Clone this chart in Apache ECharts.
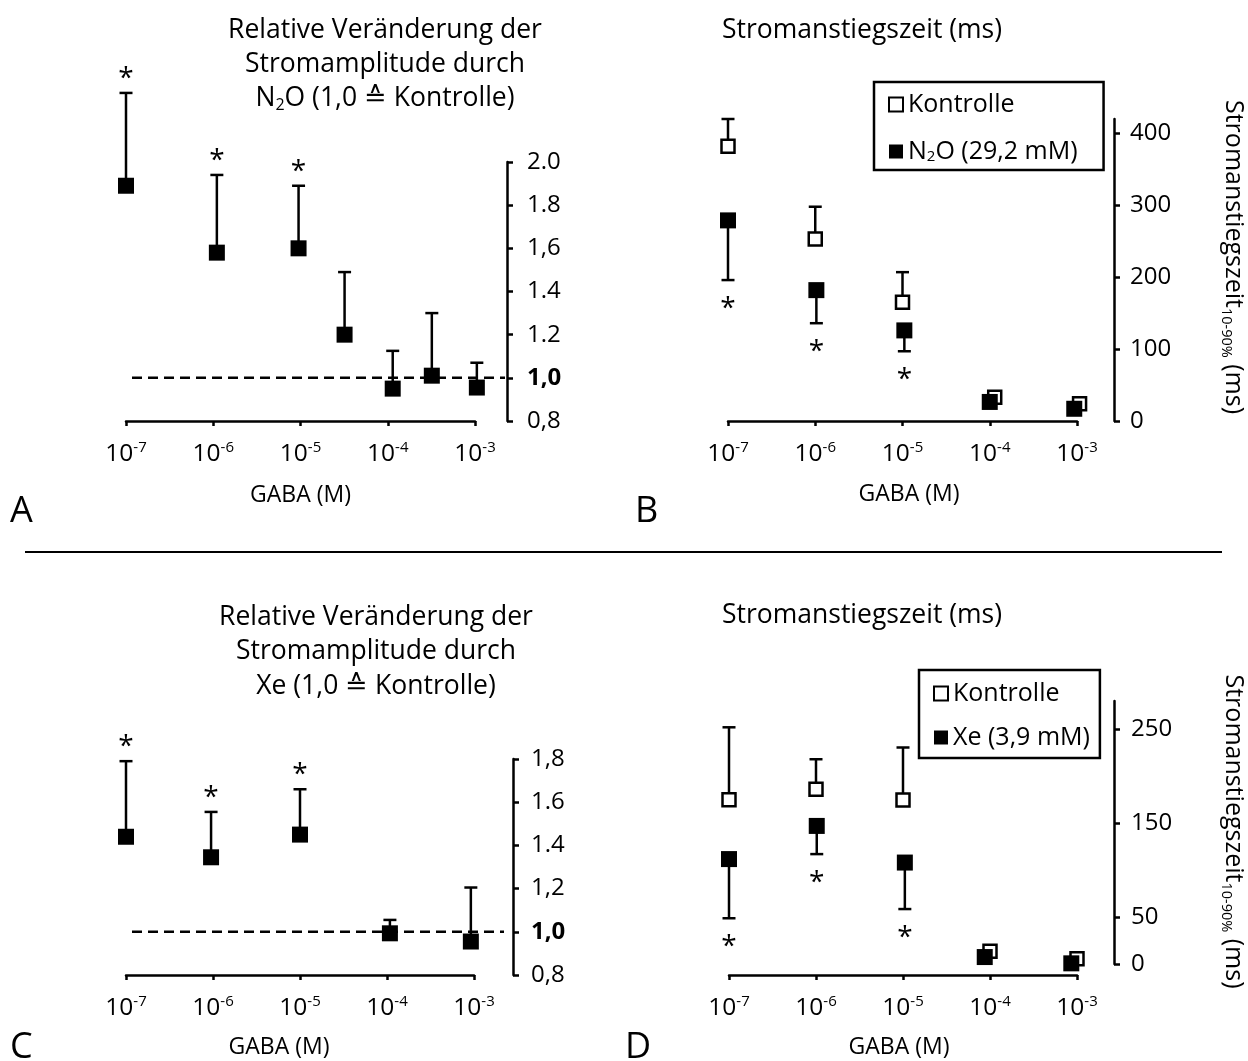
<!DOCTYPE html>
<html>
<head>
<meta charset="utf-8">
<script src="https://cdn.jsdelivr.net/npm/echarts@6/dist/echarts.min.js"></script>
<style>html,body{margin:0;padding:0;background:#fff}#main{width:1248px;height:1061px}</style>
</head>
<body>
<div id="main"></div>
<script>
var FONT = 'Open Sans';

// A: relative Stromamplitude, N2O
var gabaA = [1e-7, 1.1e-6, 9.5e-6, 3.2e-5, 1.14e-4, 3.2e-4, 1.05e-3];
var ampA = [1.89, 1.58, 1.60, 1.20, 0.95, 1.01, 0.955];
var errA = [0.43, 0.36, 0.29, 0.29, 0.175, 0.29, 0.115];
var sigA = [1, 1, 1, 0, 0, 0, 0];

// B: Stromanstiegszeit, Kontrolle / N2O
var gabaBK = [1e-7, 1e-6, 1e-5, 1.14e-4, 1.07e-3];
var riseBK = [382, 253, 165, 33, 24];
var errBK = [38, 45, 42, 0, 0];
var gabaBN = [1e-7, 1.03e-6, 1.05e-5, 1e-4, 9.3e-4];
var riseBN = [279, 182, 126, 26.5, 17];
var errBN = [83, 46, 29, 0, 0];
var sigBN = [1, 1, 1, 0, 0];

// C: relative Stromamplitude, Xe
var gabaC = [1e-7, 0.95e-6, 1e-5, 1.08e-4, 9.2e-4];
var ampC = [1.44, 1.345, 1.45, 0.993, 0.955];
var errC = [0.35, 0.21, 0.21, 0.062, 0.25];
var sigC = [1, 1, 1, 0, 0];

// D: Stromanstiegszeit, Kontrolle / Xe
var gabaDK = [1e-7, 1e-6, 1e-5, 1e-4, 1e-3];
var riseDK = [175, 186, 174.5, 13.5, 5.7];
var errDK = [77, 32, 56, 0, 0];
var gabaDX = [1e-7, 1.02e-6, 1.05e-5, 8.7e-5, 8.6e-4];
var riseDX = [111.7, 147, 108, 7.4, 0.7];
var errDX = [63, 30, 49.5, 0, 0];
var sigDX = [1, 1, 1, 0, 0];

// tick labels
var ampTicksA = [0.8, 1.0, 1.2, 1.4, 1.6, 1.8, 2.0];
var ampLabelsA = ['0,8', '1,0', '1.2', '1.4', '1,6', '1.8', '2.0'];
var ampTicksC = [0.8, 1.0, 1.2, 1.4, 1.6, 1.8];
var ampLabelsC = ['0,8', '1,0', '1,2', '1.4', '1.6', '1,8'];
var riseTicksB = [0, 100, 200, 300, 400];
var riseTicksD = [0, 50, 150, 250];
var refLevel = 1.0;

var myChart = echarts.init(document.getElementById('main'));

function zip(xs, ys) {
    return xs.map(function (x, i) { return [x, ys[i]]; });
}

function gabaAxis(gi, nameGap, namePad, offset) {
    return {
        type: 'log', logBase: 10, gridIndex: gi, min: 1e-7, max: 1e-3,
        offset: offset || 0,
        axisLine: { onZero: false, lineStyle: { color: '#000', width: 2.5 } },
        axisTick: { length: 5, lineStyle: { color: '#000', width: 2.5 } },
        splitLine: { show: false },
        axisLabel: {
            margin: 19,
            formatter: function (v) {
                return '{n|10}{e|' + Math.round(Math.log10(v)) + '}';
            },
            rich: {
                n: { fontSize: 24.5, lineHeight: 28, fontFamily: FONT, color: '#000' },
                e: { fontSize: 15, verticalAlign: 'top', fontFamily: FONT, color: '#000' }
            }
        },
        name: 'GABA (M)', nameLocation: 'middle', nameGap: nameGap,
        nameTextStyle: { fontSize: 23, fontFamily: FONT, color: '#000', padding: namePad }
    };
}

function valueAxis(gi, min, max, offset, ticks, labels, margin, extra) {
    var ax = {
        type: 'value', gridIndex: gi, position: 'right', offset: offset, min: min, max: max,
        axisLine: { show: true, onZero: false, lineStyle: { color: '#000', width: 2.5 } },
        axisTick: { show: true, length: 6, customValues: ticks, lineStyle: { color: '#000', width: 2.5 } },
        splitLine: { show: false },
        axisLabel: {
            customValues: ticks, margin: margin, fontSize: 24, fontFamily: FONT, color: '#000',
            formatter: function (v) {
                if (!labels) return String(v);
                var best = 0;
                ticks.forEach(function (t, i) { if (Math.abs(t - v) < Math.abs(ticks[best] - v)) best = i; });
                var s = labels[best];
                return Math.abs(ticks[best] - refLevel) < 1e-9 ? '{b|' + s + '}' : s;
            },
            rich: { b: { fontSize: 24, fontWeight: 'bold', fontFamily: FONT, color: '#000' } }
        }
    };
    if (extra) Object.keys(extra).forEach(function (k) { ax[k] = extra[k]; });
    return ax;
}

function errorLayer(gi, xs, ys, errs, sig, dir) {
    return {
        type: 'custom', xAxisIndex: gi, yAxisIndex: gi, z: 2, silent: true,
        data: xs.map(function (x, i) { return [x, ys[i], errs[i], sig ? sig[i] : 0]; }),
        renderItem: function (params, api) {
            var x = api.value(0), y = api.value(1), e = api.value(2), s = api.value(3);
            var p0 = api.coord([x, y]);
            var p1 = api.coord([x, y + dir * e]);
            var kids = [];
            if (e > 0) {
                kids.push({ type: 'line', shape: { x1: p0[0], y1: p0[1], x2: p1[0], y2: p1[1] },
                    style: { stroke: '#000', lineWidth: 2.5 } });
                kids.push({ type: 'line', shape: { x1: p1[0] - 6.5, y1: p1[1], x2: p1[0] + 6.5, y2: p1[1] },
                    style: { stroke: '#000', lineWidth: 2.5 } });
            }
            if (s) {
                var gap = dir > 0 ? 20 : 23;
                kids.push({ type: 'text', style: { text: '*', x: p1[0], y: p1[1] - dir * gap + 6,
                    align: 'center', verticalAlign: 'middle', font: '28px ' + FONT, fill: '#000' } });
            }
            return { type: 'group', children: kids };
        }
    };
}

function refLine(gi) {
    return {
        type: 'custom', xAxisIndex: gi, yAxisIndex: gi, z: 1, silent: true,
        data: [[1e-7, refLevel]],
        renderItem: function (params, api) {
            var cs = params.coordSys;
            var p = api.coord([api.value(0), api.value(1)]);
            return { type: 'line', shape: { x1: p[0] + 6, y1: p[1], x2: cs.x + cs.width + 30, y2: p[1] },
                style: { stroke: '#000', lineWidth: 2.5, lineDash: [10, 6] } };
        }
    };
}

function squares(gi, name, xs, ys, open) {
    return {
        type: 'scatter', name: name, xAxisIndex: gi, yAxisIndex: gi, z: open ? 3 : 4,
        symbol: 'rect', symbolSize: open ? 13 : 16, clip: false, silent: true,
        itemStyle: open ? { color: '#fff', borderColor: '#000', borderWidth: 2.5, opacity: 1 }
                        : { color: '#000', opacity: 1 },
        data: zip(xs, ys)
    };
}

var txt = { fontSize: 26.5, fontFamily: FONT, color: '#000', fontWeight: 'normal', lineHeight: 30 };
var subRich = {
    t: { fontSize: 26.5, fontFamily: FONT, color: '#000', lineHeight: 30 },
    s: { fontSize: 16, fontFamily: FONT, color: '#000', verticalAlign: 'bottom' }
};
function ttl(text, left, top, align, style) {
    return { text: text, left: left, top: top, textAlign: align, padding: 0,
        textStyle: Object.assign({}, txt, style || {}, { rich: subRich }) };
}

var legendText = {
    fontSize: 25, fontFamily: FONT, color: '#000',
    rich: {
        t: { fontSize: 25, fontFamily: FONT, color: '#000' },
        s: { fontSize: 15, fontFamily: FONT, color: '#000', verticalAlign: 'bottom' }
    }
};
function legendFmt(name) {
    if (name.indexOf('N2O') === 0) return '{t|N}{s|2}{t|' + name.slice(2) + '}';
    return '{t|' + name + '}';
}

var yNameB = 'Stromanstiegszeit';
var yNameStyle = {
    fontSize: 25, fontFamily: FONT, color: '#000', padding: [0, 26, 0, 0],
    rich: {
        t: { fontSize: 25, fontFamily: FONT, color: '#000', lineHeight: 28 },
        s: { fontSize: 14.5, fontFamily: FONT, color: '#000', verticalAlign: 'bottom' }
    }
};

var option = {
    animation: false,
    backgroundColor: '#fff',
    textStyle: { fontFamily: FONT, color: '#000' },
    title: [
        ttl('Relative Veränderung der', 385, 15, 'center'),
        ttl('Stromamplitude durch', 385, 49, 'center'),
        ttl('{t|N}{s|2}{t|O (1,0 ≙ Kontrolle)}', 385, 83, 'center'),
        ttl('Stromanstiegszeit (ms)', 722, 15, 'left'),
        ttl('Relative Veränderung der', 376, 602, 'center'),
        ttl('Stromamplitude durch', 376, 636, 'center'),
        ttl('Xe (1,0 ≙ Kontrolle)', 376, 671, 'center'),
        ttl('Stromanstiegszeit (ms)', 722, 600, 'left'),
        ttl('A', 10, 492, 'left', { fontSize: 36, lineHeight: 40 }),
        ttl('B', 635, 492, 'left', { fontSize: 36, lineHeight: 40 }),
        ttl('C', 10, 1028, 'left', { fontSize: 36, lineHeight: 40 }),
        ttl('D', 625, 1028, 'left', { fontSize: 36, lineHeight: 40 })
    ],
    legend: [
        {
            data: ['Kontrolle', 'N2O (29,2 mM)'], orient: 'vertical', left: 874, top: 82,
            itemWidth: 14, itemHeight: 14, itemGap: 22, padding: [10, 26, 6, 14],
            borderColor: '#000', borderWidth: 2.5, selectedMode: false,
            textStyle: legendText, formatter: legendFmt
        },
        {
            data: ['Kontrolle', 'Xe (3,9 mM)'], orient: 'vertical', left: 919, top: 670,
            itemWidth: 14, itemHeight: 14, itemGap: 19, padding: [11, 10, 8, 14],
            borderColor: '#000', borderWidth: 2.5, selectedMode: false,
            textStyle: legendText, formatter: legendFmt
        }
    ],
    graphic: [{
        type: 'line', shape: { x1: 25, y1: 552, x2: 1222, y2: 552 },
        style: { stroke: '#000', lineWidth: 2 }
    }],
    grid: [
        { left: 126, top: 162, width: 349, height: 259 },
        { left: 728, top: 119, width: 349, height: 302 },
        { left: 126, top: 759, width: 348, height: 216 },
        { left: 729, top: 701, width: 348, height: 263 }
    ],
    xAxis: [
        gabaAxis(0, 63, [0, 0, 0, 0]),
        gabaAxis(1, 62, [0, 0, 0, 13]),
        gabaAxis(2, 61, [0, 42, 0, 0]),
        gabaAxis(3, 61, [0, 8, 0, 0], 11)
    ],
    yAxis: [
        valueAxis(0, 0.8, 2.0, 32, ampTicksA, ampLabelsA, 20),
        valueAxis(1, 0, 420, 37, riseTicksB, null, 16, {
            name: '{t|' + yNameB + '}{s|10-90%}{t| (ms)}', nameLocation: 'middle', nameRotate: -90,
            nameGap: 105, nameTextStyle: yNameStyle
        }),
        valueAxis(2, 0.8, 1.8, 39, ampTicksC, ampLabelsC, 18),
        valueAxis(3, 0, 280, 37, riseTicksD, null, 17, {
            name: '{t|' + yNameB + '}{s|10-90%}{t| (ms)}', nameLocation: 'middle', nameRotate: -90,
            nameGap: 105, nameTextStyle: Object.assign({}, yNameStyle, { padding: [0, 2, 0, 0] })
        })
    ],
    series: [
        refLine(0),
        errorLayer(0, gabaA, ampA, errA, sigA, 1),
        squares(0, 'N2O rel', gabaA, ampA, false),

        errorLayer(1, gabaBK, riseBK, errBK, null, 1),
        errorLayer(1, gabaBN, riseBN, errBN, sigBN, -1),
        squares(1, 'Kontrolle', gabaBK, riseBK, true),
        squares(1, 'N2O (29,2 mM)', gabaBN, riseBN, false),

        refLine(2),
        errorLayer(2, gabaC, ampC, errC, sigC, 1),
        squares(2, 'Xe rel', gabaC, ampC, false),

        errorLayer(3, gabaDK, riseDK, errDK, null, 1),
        errorLayer(3, gabaDX, riseDX, errDX, sigDX, -1),
        squares(3, 'Kontrolle', gabaDK, riseDK, true),
        squares(3, 'Xe (3,9 mM)', gabaDX, riseDX, false)
    ]
};

myChart.setOption(option);
</script>
</body>
</html>
